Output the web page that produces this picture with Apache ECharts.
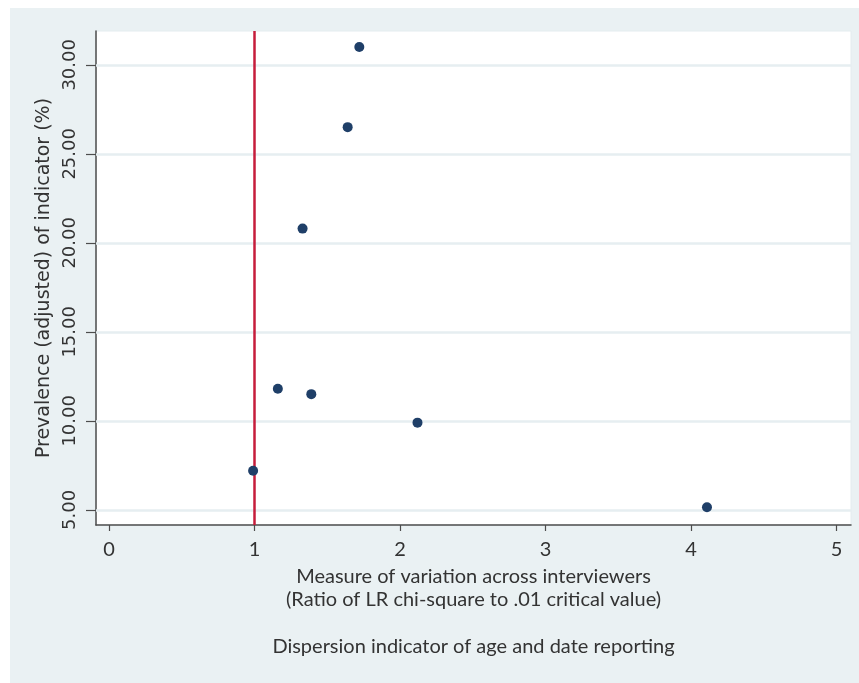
<!DOCTYPE html>
<html><head><meta charset="utf-8">
<script src="https://cdn.jsdelivr.net/npm/echarts@6/dist/echarts.min.js"></script>
<style>html,body{margin:0;padding:0;background:#fff}#c{width:859px;height:683px}</style>
</head><body><div id="c"></div>
<script>
// Data
const xValues = [1.72, 1.64, 1.33, 1.16, 1.39, 2.12, 0.99, 4.11];
const yValues = [31.0, 26.5, 20.8, 11.8, 11.5, 9.9, 7.2, 5.15];
const xTicks = [0, 1, 2, 3, 4, 5];
const yTicks = [5, 10, 15, 20, 25, 30];
const refLineX = 1;
const xTitle = 'Measure of variation across interviewers\n(Ratio of LR chi-square to .01 critical value)\n\nDispersion indicator of age and date reporting';
const yTitle = 'Prevalence (adjusted) of indicator (%)';

const points = xValues.map((x, i) => [x, yValues[i]]);
const chart = echarts.init(document.getElementById('c'), null, {renderer: 'canvas'});
chart.setOption({
  animation: false,
  backgroundColor: '#ffffff',
  graphic: [{
    type: 'rect', z: -10, silent: true,
    shape: {x: 10, y: 8, width: 849, height: 675},
    style: {fill: '#eaf1f3'}
  }],
  grid: {
    left: 96, right: 8, top: 31, bottom: 158,
    show: true, backgroundColor: '#ffffff', borderColor: '#e4ecef', borderWidth: 1
  },
  xAxis: {
    type: 'value', min: -0.09, max: 5.1,
    axisLine: {show: true, onZero: false, lineStyle: {color: '#4d4d4d', width: 1.5}},
    axisTick: {show: true, customValues: xTicks, length: 6, lineStyle: {color: '#4d4d4d', width: 1.2}},
    axisLabel: {customValues: xTicks, margin: 15, fontFamily: 'Lato', fontSize: 20, color: '#333333'},
    splitLine: {show: false},
    name: xTitle, nameLocation: 'middle', nameGap: 36,
    nameTextStyle: {fontFamily: 'Lato', fontSize: 20, color: '#333333', lineHeight: 23.3, align: 'center'}
  },
  yAxis: {
    type: 'value', min: 4.15, max: 31.9,
    axisLine: {show: true, onZero: false, lineStyle: {color: '#4d4d4d', width: 1.5}},
    axisTick: {show: true, customValues: yTicks, length: 10, lineStyle: {color: '#4d4d4d', width: 1.2}},
    axisLabel: {customValues: yTicks, rotate: 90, margin: 17, fontFamily: 'DejaVu Sans', fontSize: 18, color: '#333333',
      formatter: v => v.toFixed(2)},
    splitLine: {show: false},
    name: yTitle, nameLocation: 'middle', nameRotate: 90, nameGap: 42,
    nameTextStyle: {fontFamily: 'DejaVu Sans', fontSize: 19, color: '#333333'}
  },
  series: [
    {
      type: 'scatter', data: [], z: 1, silent: true,
      markLine: {
        silent: true, symbol: 'none', label: {show: false}, animation: false,
        lineStyle: {color: '#e6eef1', width: 2.5, type: 'solid'},
        data: yTicks.map(v => ({yAxis: v}))
      }
    },
    {
      type: 'scatter', data: [], z: 2, silent: true,
      markLine: {
        silent: true, symbol: 'none', label: {show: false}, animation: false,
        lineStyle: {color: '#c61d3b', width: 2.5, type: 'solid'},
        data: [{xAxis: refLineX}]
      }
    },
    {
      type: 'scatter', data: points, z: 5, symbol: 'circle', symbolSize: 10,
      itemStyle: {color: '#1f3f68', opacity: 1}
    }
  ]
});
</script>
</body></html>
